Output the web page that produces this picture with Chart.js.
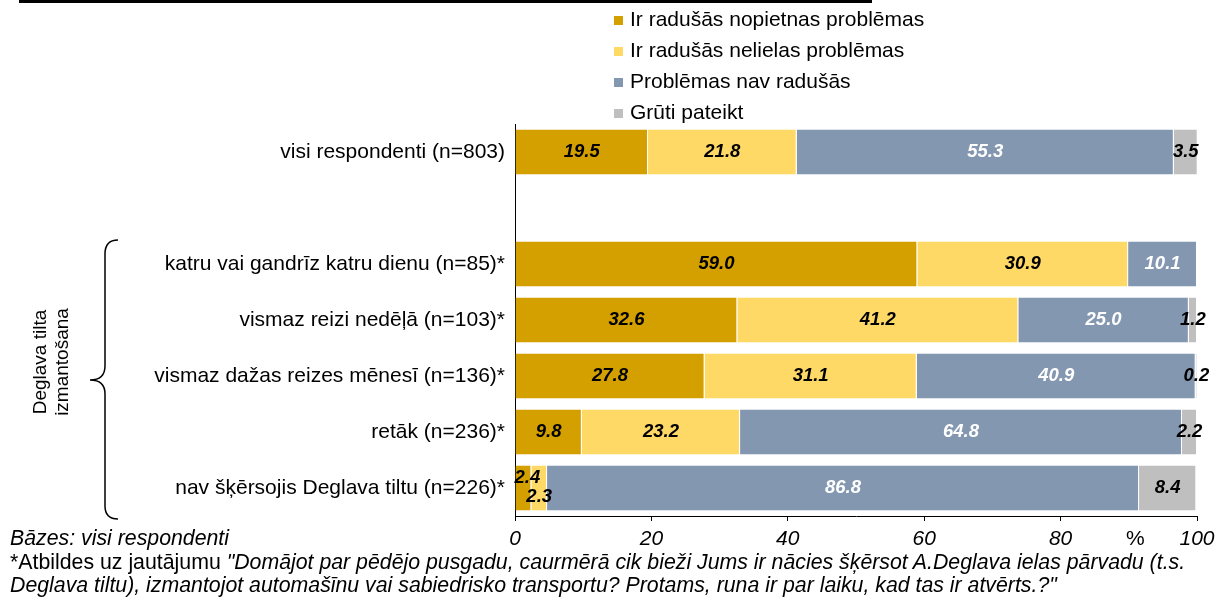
<!DOCTYPE html>
<html>
<head>
<meta charset="utf-8">
<script src="https://cdn.jsdelivr.net/npm/chart.js@4"></script>
<style>
  body { margin: 0; background: #fff; font-family: Arial, "Liberation Sans", sans-serif; color: #000; }
  #wrap { position: relative; width: 1224px; height: 600px; overflow: hidden; }
  #chart { position: absolute; left: 0; top: 0; }
  .topline { position: absolute; left: 19px; top: 0; width: 853px; height: 3px; background: #000; }
  .legend { position: absolute; left: 614px; top: 3px; font-size: 21px; }
  .legend div { height: 31px; line-height: 31px; white-space: nowrap; }
  .legend span { display: inline-block; width: 9px; height: 9px; margin-right: 7px; vertical-align: 1px; }
  .group { position: absolute; left: 51px; top: 362px; transform: translate(-50%, -50%) rotate(-90deg);
           font-size: 19px; line-height: 22px; text-align: center; white-space: nowrap; }
  .note { position: absolute; left: 10px; top: 527px; font-size: 21.3px; line-height: 23.5px; white-space: nowrap; }
  .pct { position: absolute; left: 1126px; top: 526px; font-size: 21px; line-height: 23.5px; }
  svg { position: absolute; left: 0; top: 0; }
</style>
</head>
<body>
<div id="wrap">
  <canvas id="chart" width="1224" height="600"></canvas>
  <div class="topline"></div>
  <div class="legend" id="legend"></div>
  <div class="group">Deglava tilta<br>izmantošana</div>
  <svg width="140" height="600">
    <path d="M118 240 Q105 240 105 254 L105 366 Q105 380 90 380 Q105 380 105 394 L105 506 Q105 519 118 519"
          fill="none" stroke="#000" stroke-width="1.5"/>
  </svg>
  <div class="pct">%</div>
  <div class="note">
    <i>Bāzes: visi respondenti</i><br>
    *Atbildes uz jautājumu <i>"Domājot par pēdējo pusgadu, caurmērā cik bieži Jums ir nācies šķērsot A.Deglava ielas pārvadu (t.s.<br>
    Deglava tiltu), izmantojot automašīnu vai sabiedrisko transportu? Protams, runa ir par laiku, kad tas ir atvērts.?"</i>
  </div>
</div>
<script>
const categories = [
  "visi respondenti (n=803)",
  "",
  "katru vai gandrīz katru dienu (n=85)*",
  "vismaz reizi nedēļā (n=103)*",
  "vismaz dažas reizes mēnesī (n=136)*",
  "retāk (n=236)*",
  "nav šķērsojis Deglava tiltu (n=226)*",
];
const seriesNames = [
  "Ir radušās nopietnas problēmas",
  "Ir radušās nelielas problēmas",
  "Problēmas nav radušās",
  "Grūti pateikt",
];
const seriesColors = ["#D4A000", "#FFD966", "#8497B0", "#BFBFBF"];

const seriousProblems = [19.5, null, 59.0, 32.6, 27.8, 9.8, 2.4];
const minorProblems = [21.8, null, 30.9, 41.2, 31.1, 23.2, 2.3];
const noProblems = [55.3, null, 10.1, 25.0, 40.9, 64.8, 86.8];
const hardToSay = [3.5, null, 0, 1.2, 0.2, 2.2, 8.4];
const xTicks = [0, 20, 40, 60, 80, 100];

const fontFamily = 'Arial, "Liberation Sans", sans-serif';

// small labels in the last row are moved apart so they don't overlap
const labelShift = { "0:6": [4, -10], "1:6": [0, 9] };

const legendBox = document.getElementById("legend");
seriesNames.forEach(function (name, i) {
  const row = document.createElement("div");
  row.innerHTML = '<span style="background:' + seriesColors[i] + '"></span>' + name;
  legendBox.appendChild(row);
});

const valueLabels = {
  id: "valueLabels",
  afterDatasetsDraw(chart) {
    const ctx = chart.ctx;
    ctx.save();
    ctx.font = "italic bold 18.5px " + fontFamily;
    ctx.textAlign = "center";
    ctx.textBaseline = "middle";
    chart.data.datasets.forEach(function (ds, i) {
      chart.getDatasetMeta(i).data.forEach(function (bar, j) {
        const v = ds.data[j];
        if (!v) return;
        const shift = labelShift[i + ":" + j] || [0, 0];
        ctx.fillStyle = i === 2 ? "#fff" : "#000";
        ctx.fillText(v.toFixed(1), (bar.x + bar.base) / 2 + shift[0], bar.y + shift[1]);
      });
    });
    ctx.restore();
  },
};

const allValues = [seriousProblems, minorProblems, noProblems, hardToSay];
const data = {
  labels: categories,
  datasets: seriesNames.map(function (name, i) {
    return {
      label: name,
      data: allValues[i],
      backgroundColor: seriesColors[i],
      borderColor: "#fff",
      borderWidth: { top: 0, bottom: 0, left: 0, right: 1 },
      borderSkipped: false,
      categoryPercentage: 0.8,
      barPercentage: 1,
    };
  }),
};

const config = {
  type: "bar",
  data: data,
  options: {
    indexAxis: "y",
    responsive: false,
    animation: false,
    layout: { padding: { top: 124, right: 27, left: 0, bottom: 0 } },
    plugins: {
      legend: { display: false },
      tooltip: { enabled: false },
    },
    scales: {
      x: {
        stacked: true,
        min: xTicks[0],
        max: xTicks[xTicks.length - 1],
        afterFit: function (scale) {
          scale.height = 84;
        },
        afterBuildTicks: function (scale) {
          scale.ticks = xTicks.map(function (v) { return { value: v }; });
        },
        ticks: {
          color: "#000",
          font: { family: fontFamily, size: 21, style: "italic" },
          padding: 6,
          maxRotation: 0,
        },
        grid: { drawOnChartArea: false, tickLength: 5, color: "#000" },
        border: { color: "#000", width: 1 },
      },
      y: {
        stacked: true,
        afterFit: function (scale) {
          scale.width = 515;
        },
        ticks: {
          color: "#000",
          font: { family: fontFamily, size: 21 },
          padding: 10,
          autoSkip: false,
        },
        grid: { display: false, drawTicks: false },
        border: { color: "#000", width: 1 },
      },
    },
  },
  plugins: [valueLabels],
};

const myChart = new Chart(document.getElementById("chart"), config);
</script>
</body>
</html>
